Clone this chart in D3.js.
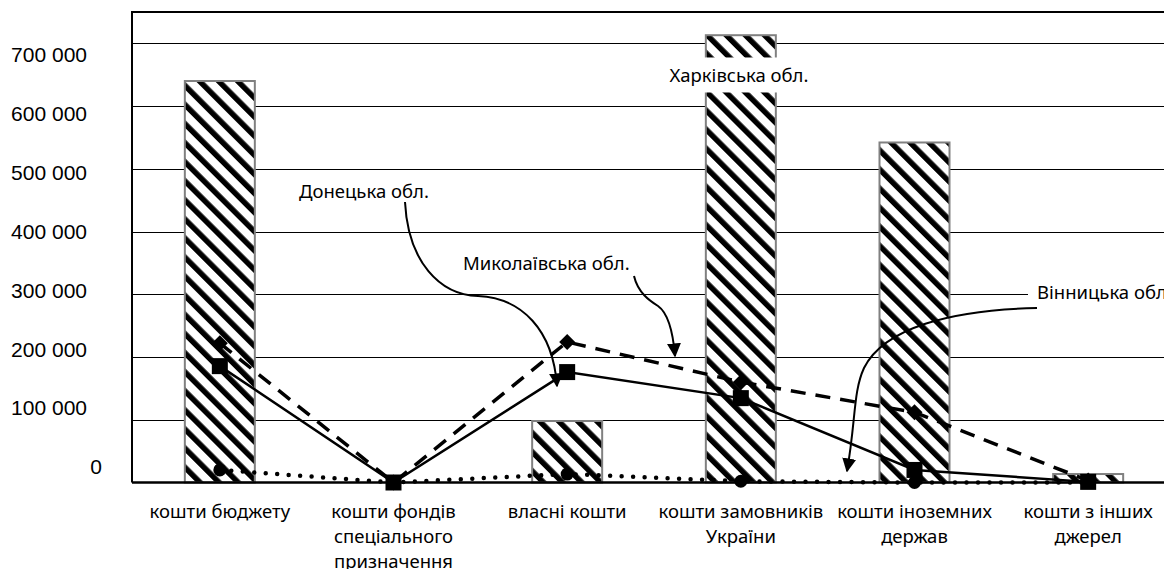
<!DOCTYPE html>
<html>
<head>
<meta charset="utf-8">
<script src="https://cdn.jsdelivr.net/npm/d3@7"></script>
<style>
  body { margin: 0; background: #fff; }
  svg { display: block; }
</style>
</head>
<body>
<svg id="chart" width="1164" height="569"></svg>
<script>
const
  categories = [
    ['кошти бюджету'],
    ['кошти фондів', 'спеціального', 'призначення'],
    ['власні кошти'],
    ['кошти замовників', 'України'],
    ['кошти іноземних', 'держав'],
    ['кошти з інших', 'джерел']
  ],
  yTicks = [0, 100000, 200000, 300000, 400000, 500000, 600000, 700000],
  kharkiv = [640000, 0, 98000, 713000, 542000, 13500],
  donetsk = [185500, 0, 176000, 134500, 20000, 1000],
  mykolaiv = [222000, 0, 224000, 160000, 112000, 3000],
  vinnytsia = [20000, 0, 13500, 2000, 0, 0];

const
  chartW = 1164,
  plotLeft = 132,
  plotTop = 12,
  plotBottom = 482.5,
  labelFont = '"Noto Sans", "Open Sans", sans-serif',
  labelSize = '18.5px';

const svg = d3.select('#chart');

const x = d3.scaleBand()
  .domain(d3.range(categories.length))
  .range([133, 1175]);

const y = d3.scaleLinear()
  .domain([0, 750000])
  .range([plotBottom, plotTop]);

// tick labels sit a bit off the gridlines in the original
const yLabel = d3.scaleLinear()
  .domain([0, 700000])
  .range([467, 55]);

const cx = (i) => x(i) + x.bandwidth() / 2;
const barW = 70;

const defs = svg.append('defs');

defs.append('pattern')
  .attr('id', 'hatch')
  .attr('patternUnits', 'userSpaceOnUse')
  .attr('width', 13.5)
  .attr('height', 13.5)
  .attr('patternTransform', 'rotate(-45)')
  .call((p) => {
    p.append('rect').attr('width', 13.5).attr('height', 13.5).attr('fill', '#fff');
    p.append('rect').attr('x', 0).attr('width', 5.5).attr('height', 13.5).attr('fill', '#000');
  });

defs.append('marker')
  .attr('id', 'arrow')
  .attr('viewBox', '0 0 10 10')
  .attr('refX', 9)
  .attr('refY', 5)
  .attr('markerWidth', 7)
  .attr('markerHeight', 7)
  .attr('markerUnits', 'strokeWidth')
  .attr('orient', 'auto')
  .append('path')
  .attr('d', 'M0,0 L10,5 L0,10 z')
  .attr('fill', '#000');

// gridlines
svg.append('g')
  .selectAll('line')
  .data(yTicks.filter((d) => d > 0))
  .enter()
  .append('line')
  .attr('x1', plotLeft)
  .attr('x2', chartW)
  .attr('y1', (d) => Math.round(y(d)) + 0.5)
  .attr('y2', (d) => Math.round(y(d)) + 0.5)
  .attr('stroke', '#000')
  .attr('stroke-width', 1);

// y tick labels
svg.append('g')
  .selectAll('text')
  .data(yTicks)
  .enter()
  .append('text')
  .attr('x', (d) => d === 0 ? 102 : 87)
  .attr('y', (d) => yLabel(d))
  .attr('dy', '0.35em')
  .attr('text-anchor', 'end')
  .style('font-family', '"Liberation Sans", Arial, sans-serif')
  .style('font-size', '21px')
  .text((d) => d3.format(',')(d).replace(/,/g, ' '));

// bars (Kharkiv)
svg.append('g')
  .selectAll('rect')
  .data(kharkiv.map((v, i) => ({ v, i })).filter((d) => d.v > 0))
  .enter()
  .append('rect')
  .attr('x', (d) => cx(d.i) - barW / 2)
  .attr('y', (d) => y(d.v))
  .attr('width', barW)
  .attr('height', (d) => plotBottom - y(d.v))
  .attr('fill', 'url(#hatch)')
  .attr('stroke', '#808080')
  .attr('stroke-width', 2);

// frame
svg.append('path')
  .attr('d', `M${plotLeft},${plotBottom} V${plotTop} H${chartW}`)
  .attr('fill', 'none')
  .attr('stroke', '#000')
  .attr('stroke-width', 2);

svg.append('line')
  .attr('x1', plotLeft)
  .attr('x2', chartW)
  .attr('y1', plotBottom)
  .attr('y2', plotBottom)
  .attr('stroke', '#000')
  .attr('stroke-width', 2.5);

const line = d3.line()
  .x((d, i) => cx(i))
  .y((d) => y(d));

// Vinnytsia, dotted with circles
svg.append('path')
  .attr('d', line(vinnytsia))
  .attr('fill', 'none')
  .attr('stroke', '#000')
  .attr('stroke-width', 4.5)
  .attr('stroke-linecap', 'round')
  .attr('stroke-dasharray', '0 11.5');

// Mykolaiv, dashed with diamonds
svg.append('path')
  .attr('d', line(mykolaiv))
  .attr('fill', 'none')
  .attr('stroke', '#000')
  .attr('stroke-width', 3.5)
  .attr('stroke-dasharray', '15 10');

// Donetsk, solid with squares
svg.append('path')
  .attr('d', line(donetsk))
  .attr('fill', 'none')
  .attr('stroke', '#000')
  .attr('stroke-width', 2.5);

svg.append('g')
  .selectAll('circle')
  .data(vinnytsia)
  .enter()
  .append('circle')
  .attr('cx', (d, i) => cx(i))
  .attr('cy', (d) => y(d))
  .attr('r', 6.5)
  .attr('fill', '#000');

svg.append('g')
  .selectAll('path')
  .data(mykolaiv)
  .enter()
  .append('path')
  .attr('transform', (d, i) => `translate(${cx(i)},${y(d)})`)
  .attr('d', 'M0,-8 L8,0 L0,8 L-8,0 Z')
  .attr('fill', '#000');

svg.append('g')
  .selectAll('rect')
  .data(donetsk)
  .enter()
  .append('rect')
  .attr('x', (d, i) => cx(i) - 8)
  .attr('y', (d) => y(d) - 8)
  .attr('width', 16)
  .attr('height', 16)
  .attr('fill', '#000');

// category labels
svg.append('g')
  .selectAll('text')
  .data(categories)
  .enter()
  .append('text')
  .attr('y', 512)
  .attr('text-anchor', 'middle')
  .style('font-family', labelFont)
  .style('font-size', labelSize)
  .each(function (d, i) {
    d3.select(this)
      .selectAll('tspan')
      .data(d)
      .enter()
      .append('tspan')
      .attr('x', cx(i))
      .attr('dy', (t, j) => j === 0 ? '0.35em' : 25)
      .text((t) => t);
  });

// annotations
const notes = svg.append('g');

function label (text, lx, ly, anchor) {
  return notes.append('text')
    .attr('x', lx)
    .attr('y', ly)
    .attr('dy', '0.35em')
    .attr('text-anchor', anchor || 'start')
    .style('font-family', labelFont)
    .style('font-size', labelSize)
    .text(text);
}

function box (t, padX, padY) {
  let b = t.node().getBBox();
  notes.insert('rect', () => t.node())
    .attr('x', b.x - padX)
    .attr('y', b.y - padY)
    .attr('width', b.width + padX * 2)
    .attr('height', b.height + padY * 2)
    .attr('fill', '#fff');
}

box(label('Харківська обл.', 739, 76, 'middle'), 6, 5);
box(label('Вінницька обл.', 1037, 293), 9, 2);
label('Донецька обл.', 299, 192);
label('Миколаївська обл.', 463, 264);

const arrows = [
  'M405,202 C408,262 440,295 478,296 C522,298 553,330 557,386',
  'M634,276 C638,293 650,301 658,306 C668,313 673,332 675,356',
  'M1037,308 C950,310 884,328 864,368 C853,392 856,420 847,471'
];

notes.selectAll('path')
  .data(arrows)
  .enter()
  .append('path')
  .attr('d', (d) => d)
  .attr('fill', 'none')
  .attr('stroke', '#000')
  .attr('stroke-width', 2)
  .attr('marker-end', 'url(#arrow)');
</script>
</body>
</html>
